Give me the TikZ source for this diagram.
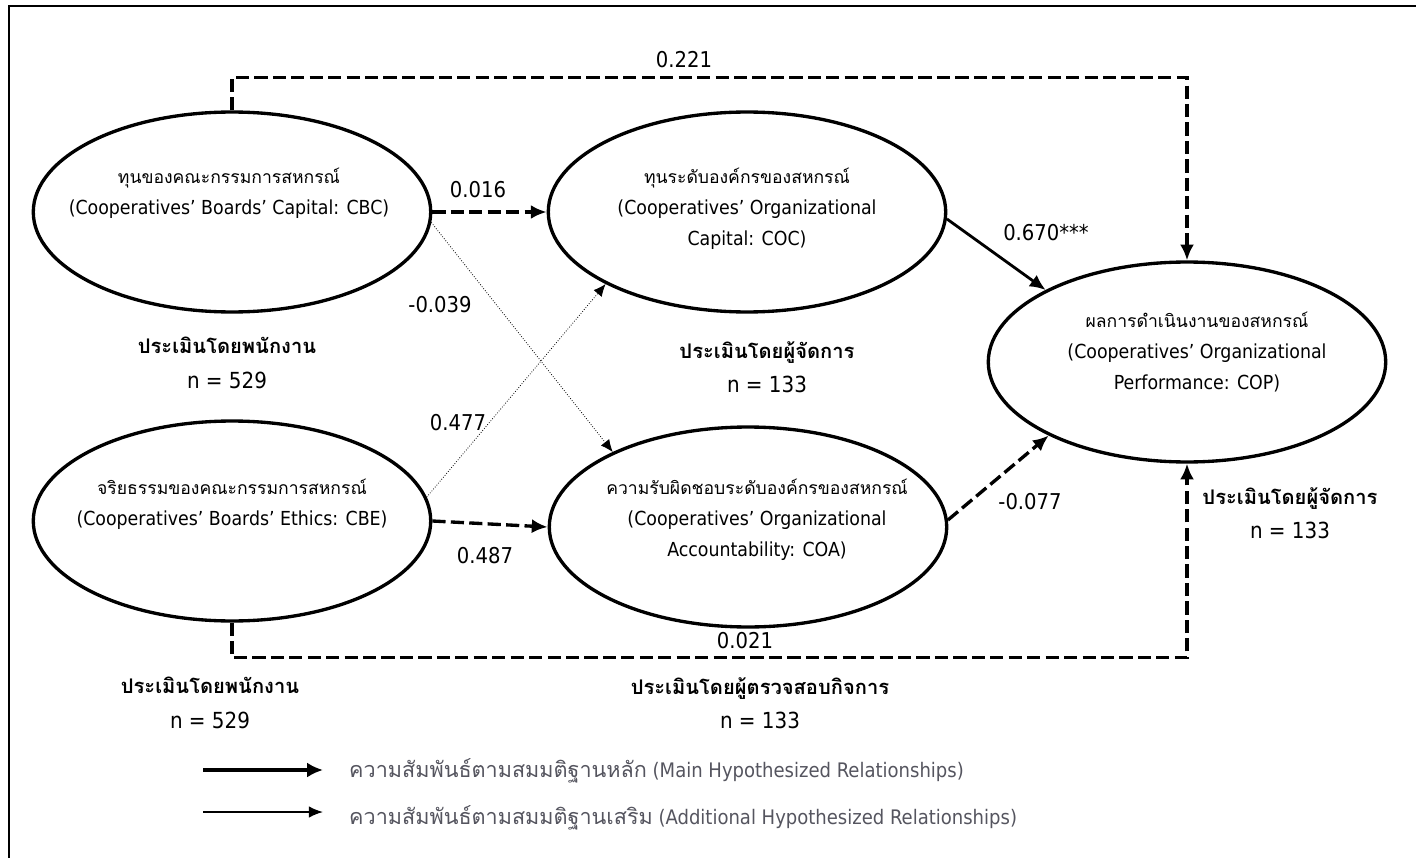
\documentclass[tikz,border=0pt]{standalone}
\usepackage{fontspec}
\setmainfont{DejaVu Sans Condensed}
\newfontfamily\thaifont[Script=Thai, Scale=0.91]{Loma}
\usetikzlibrary{positioning, arrows.meta, shapes.geometric}
\definecolor{legendgray}{RGB}{85, 85, 95}
\newcommand{\thtxt}[1]{{\thaifont #1}}

\begin{document}
\begin{tikzpicture}[x=0.02cm, y=-0.02cm,
  construct/.style={draw, ellipse, line width=1.9pt, minimum width=7.95cm, minimum height=4cm, inner sep=0pt},
  ctext/.style={align=center, font=\fontsize{11}{17.6}\selectfont},
  mainpath/.style={line width=1.9pt, dash pattern=on 7.5pt off 3pt, -{Latex[length=9pt,width=8pt]}},
  solidpath/.style={line width=1.6pt, -{Latex[length=9pt,width=8pt]}},
  extrapath/.style={line width=0.45pt, densely dotted, -{Latex[length=7pt,width=6pt]}},
  coef/.style={font=\fontsize{12.4}{14}\selectfont},
  rater/.style={align=center, font=\fontsize{12.6}{19.5}\selectfont}]
\useasboundingbox (0,0) rectangle (1416,858);
\draw[line width=1.2pt] (9,858) -- (9,6) -- (1416,6);

% constructs
\node[construct] (cbc) at (232,212) {};
\node[construct] (cbe) at (232,521) {};
\node[construct] (coc) at (747,212) {};
\node[construct] (coa) at (748,527) {};
\node[construct] (cop) at (1187,362) {};

\node[ctext] (cbctext) at (229,193) {\thtxt{ทุนของคณะกรรมการสหกรณ์}\\(Cooperatives’ Boards’ Capital: CBC)};
\node[ctext] (cbetext) at (232,504) {\thtxt{จริยธรรมของคณะกรรมการสหกรณ์}\\(Cooperatives’ Boards’ Ethics: CBE)};
\node[ctext] (coctext) at (747,209) {\thtxt{ทุนระดับองค์กรของสหกรณ์}\\(Cooperatives’ Organizational\\Capital: COC)};
\node[ctext] (coatext) at (757,520) {\thtxt{ความรับผิดชอบระดับองค์กรของสหกรณ์}\\(Cooperatives’ Organizational\\Accountability: COA)};
\node[ctext] (coptext) at (1197,352) {\thtxt{ผลการดำเนินงานของสหกรณ์}\\(Cooperatives’ Organizational\\Performance: COP)};

% paths
\draw[mainpath] (cbc.north) -- ++(0,-33) -| (cop.north);
\draw[mainpath] (cbe.south) -- ++(0,35) -| (cop.south);
\draw[mainpath] (cbc.east) -- (coc.west);
\draw[mainpath] (cbe.east) -- (coa.west);
\draw[extrapath] (cbc.-3) -- (coa.151);
\draw[extrapath] (cbe.7) -- (coc.207);
\draw[solidpath] (coc.-2) -- (cop.153);
\draw[mainpath] (coa.2) -- (cop.208);

% coefficients
\node[coef] (b221) at (684,60) {0.221};
\node[coef] (b016) at (478,190) {0.016};
\node[coef] (b039) at (440,305) {-0.039};
\node[coef] (b477) at (458,423) {0.477};
\node[coef] (b487) at (485,556) {0.487};
\node[coef] (b670) at (1046,233) {0.670***};
\node[coef] (b077) at (1030,502) {-0.077};
\node[coef] (b021) at (745,641) {0.021};

% raters
\node[rater] (rcbc) at (227,363) {\thtxt{\bfseries ประเมินโดยพนักงาน}\\n = 529};
\node[rater] (rcoc) at (767,367) {\thtxt{\bfseries ประเมินโดยผู้จัดการ}\\n = 133};
\node[rater] (rcop) at (1290,513) {\thtxt{\bfseries ประเมินโดยผู้จัดการ}\\n = 133};
\node[rater] (rcbe) at (210,703) {\thtxt{\bfseries ประเมินโดยพนักงาน}\\n = 529};
\node[rater] (rcoa) at (760,703) {\thtxt{\bfseries ประเมินโดยผู้ตรวจสอบกิจการ}\\n = 133};

% legend
\coordinate (l1a) at (203,770);
\coordinate (l1b) at (323,770);
\coordinate (l2a) at (203,812);
\coordinate (l2b) at (323,812);
\draw[line width=2.4pt, -{Latex[length=9pt,width=8.5pt]}] (l1a) -- (l1b);
\draw[line width=0.9pt, -{Latex[length=8pt,width=6.5pt]}] (l2a) -- (l2b);
\node[right, text=legendgray, font=\fontsize{11.4}{13}\selectfont] (leg1) at (343,771) {\thtxt{\fontsize{13.5}{13}\selectfont ความสัมพันธ์ตามสมมติฐานหลัก} (Main Hypothesized Relationships)};
\node[right, text=legendgray, font=\fontsize{11.4}{13}\selectfont] (leg2) at (343,818) {\thtxt{\fontsize{13.5}{13}\selectfont ความสัมพันธ์ตามสมมติฐานเสริม} (Additional Hypothesized Relationships)};
\end{tikzpicture}
\end{document}
